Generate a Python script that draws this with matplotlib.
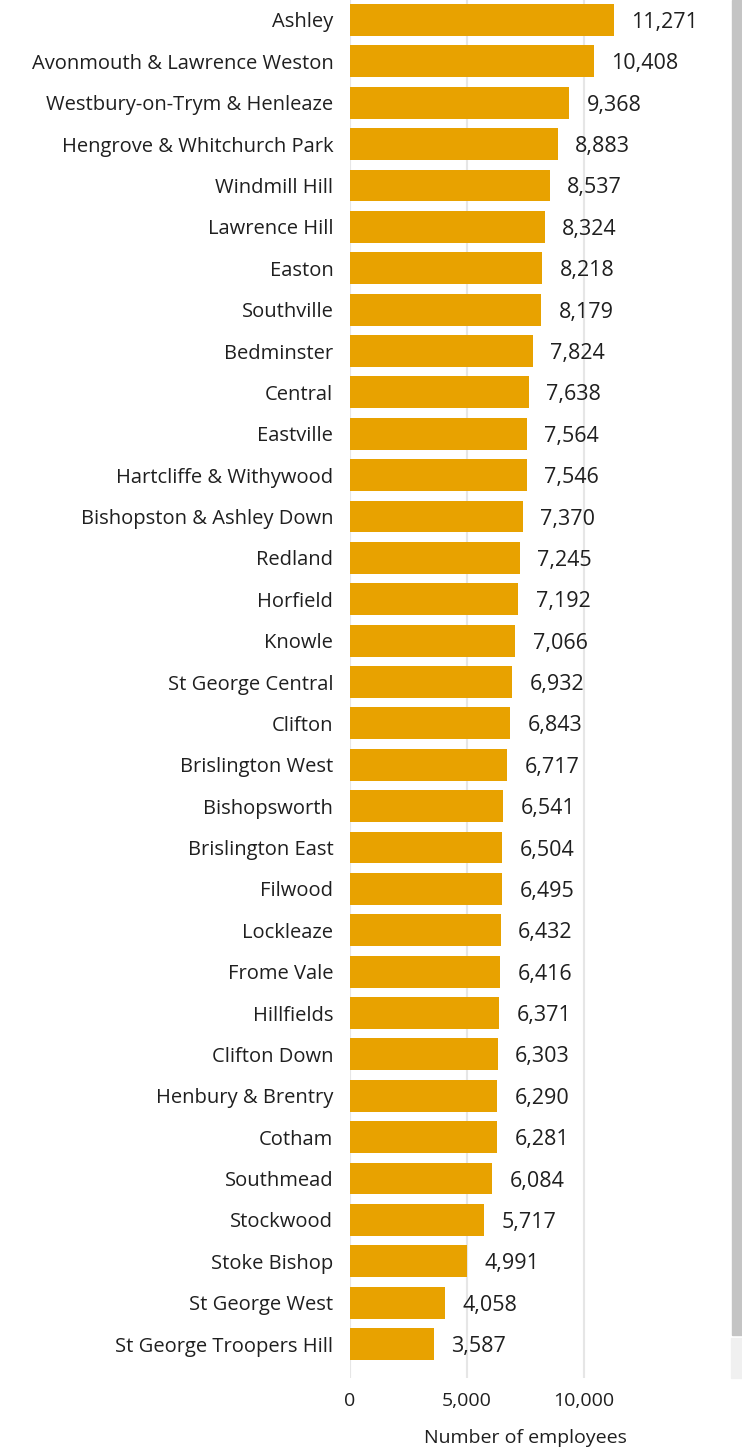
import matplotlib.pyplot as plt
from matplotlib.patches import Rectangle

wards = ["Ashley", "Avonmouth & Lawrence Weston", "Westbury-on-Trym & Henleaze",
         "Hengrove & Whitchurch Park", "Windmill Hill", "Lawrence Hill", "Easton",
         "Southville", "Bedminster", "Central", "Eastville", "Hartcliffe & Withywood",
         "Bishopston & Ashley Down", "Redland", "Horfield", "Knowle", "St George Central",
         "Clifton", "Brislington West", "Bishopsworth", "Brislington East", "Filwood",
         "Lockleaze", "Frome Vale", "Hillfields", "Clifton Down", "Henbury & Brentry",
         "Cotham", "Southmead", "Stockwood", "Stoke Bishop", "St George West",
         "St George Troopers Hill"]
employees = [11271, 10408, 9368, 8883, 8537, 8324, 8218, 8179, 7824, 7638, 7564, 7546,
             7370, 7245, 7192, 7066, 6932, 6843, 6717, 6541, 6504, 6495, 6432, 6416,
             6371, 6303, 6290, 6281, 6084, 5717, 4991, 4058, 3587]
x_ticks = [0, 5000, 10000]
x_title = "Number of employees"

plt.rcParams['font.family'] = ['Open Sans', 'DejaVu Sans']
text_col = "#1f1f1f"

W, H = 742, 1447
fig = plt.figure(figsize=(W / 100, H / 100), dpi=100)
# axes in pixel coords: left 350, right 700, top 0, bottom 1378
ax = fig.add_axes([350 / W, 1 - 1378 / H, 350 / W, 1378 / H])

pos = list(range(len(wards)))
ax.barh(pos, employees, height=0.77, color="#E8A200", zorder=2)
for p, v in zip(pos, employees):
    ax.text(v + 740, p, f"{v:,}", va="center_baseline", ha="left", fontsize=15.5,
            color=text_col, clip_on=False)

ax.set_ylim(32.82, -0.483)
ax.set_xlim(0, 14950)
ax.set_yticks(pos)
ax.set_yticklabels(wards, fontsize=14.5, color=text_col)
ax.set_xticks(x_ticks)
ax.set_xticklabels([f"{t:,}" for t in x_ticks], fontsize=14, color=text_col)
ax.tick_params(axis="y", length=0, pad=12)
ax.tick_params(axis="x", length=0, pad=10)
ax.set_xlabel(x_title, fontsize=14, color=text_col, labelpad=14)
ax.grid(axis="x", color="#E6E6E6", linewidth=1.5, zorder=0)
for s in ax.spines.values():
    s.set_visible(False)

# scrollbar at right edge
fig.patches.append(Rectangle((732 / W, 1 - 1335 / H), 10 / W, 1335 / H,
                             transform=fig.transFigure, color="#C4C4C4"))
fig.patches.append(Rectangle((731 / W, 1 - 1378 / H), 11 / W, 40 / H,
                             transform=fig.transFigure, color="#F0F0F0"))

fig.savefig("out.png", dpi=100)
